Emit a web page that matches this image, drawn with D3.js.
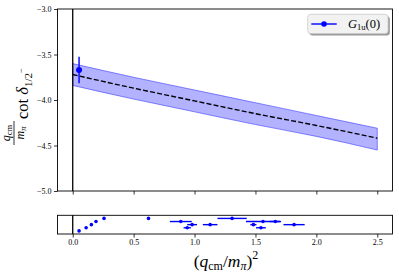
<!DOCTYPE html>
<html><head><meta charset="utf-8">
<script src="https://cdn.jsdelivr.net/npm/d3@7"></script>
<style>body{margin:0;background:#fff}svg{display:block}</style>
</head><body>
<script>
// ---- data ----
const bandX      = [0, 0.5, 1.0, 1.5, 2.0, 2.5];
const bandCenter = [-3.72, -3.87, -4.01, -4.15, -4.28, -4.42];
const bandUpper  = [-3.60, -3.75, -3.89, -4.03, -4.17, -4.31];
const bandLower  = [-3.84, -3.99, -4.13, -4.27, -4.40, -4.55];
const pointX = [0.052];
const pointY = [-3.67];
const pointYErr = [0.145];
// spectrum panel: x positions, error and level index
const specX   = [0.052, 0.11, 0.94, 1.545, 0.153, 0.98, 1.128, 1.483, 1.817, 0.191, 0.887, 1.562, 1.663, 0.257, 0.622, 1.308];
const specErr = [0, 0, 0.03, 0.04, 0, 0.04, 0.06, 0.025, 0.087, 0, 0.09, 0.14, 0.047, 0, 0, 0.12];
const specLvl = [0, 1, 1, 1, 2, 2, 2, 2, 2, 3, 3, 3, 3, 4, 4, 4];
const yTicks = [-3.0, -3.5, -4.0, -4.5, -5.0];
const xTicks = [0.0, 0.5, 1.0, 1.5, 2.0, 2.5];
const legendLabel = "G";

const W = 399, H = 276;
const svg = d3.select("body").append("svg").attr("width", W).attr("height", H);
const serif = "'Liberation Serif', 'DejaVu Serif', serif";

const x = d3.scaleLinear().domain([-0.125, 2.625]).range([57.5, 392.5]);
const y = d3.scaleLinear().domain([-5, -3]).range([191, 9]);
const yb = d3.scaleLinear().domain([-1, 5]).range([234, 215.3]);

// band
const bandData = bandX.map((v, i) => ({x: v, c: bandCenter[i], u: bandUpper[i], l: bandLower[i]}));
svg.append("path").datum(bandData)
  .attr("d", d3.area().x(d => x(d.x)).y0(d => y(d.l)).y1(d => y(d.u)).curve(d3.curveNatural))
  .attr("fill", "rgba(0,0,255,0.3)").attr("stroke", "rgba(0,0,255,0.55)").attr("stroke-width", 0.8);
svg.append("path").datum(bandData)
  .attr("d", d3.line().x(d => x(d.x)).y(d => y(d.c)).curve(d3.curveNatural))
  .attr("fill", "none").attr("stroke", "#000").attr("stroke-width", 1.4).attr("stroke-dasharray", "5,2.2");

// vertical zero lines
svg.append("line").attr("x1", x(0)).attr("x2", x(0)).attr("y1", y(-3)).attr("y2", y(-5))
  .attr("stroke", "#000").attr("stroke-width", 1.3);
svg.append("line").attr("x1", x(0)).attr("x2", x(0)).attr("y1", yb(5)).attr("y2", yb(-1))
  .attr("stroke", "#000").attr("stroke-width", 1.3);

// data point
pointX.forEach((px, i) => {
  svg.append("line").attr("x1", x(px)).attr("x2", x(px))
    .attr("y1", y(pointY[i] + pointYErr[i])).attr("y2", y(pointY[i] - pointYErr[i]))
    .attr("stroke", "#0000ff").attr("stroke-width", 1.4);
  svg.append("circle").attr("cx", x(px)).attr("cy", y(pointY[i])).attr("r", 3).attr("fill", "#0000ff");
});

// spectrum panel
specX.forEach((sx, i) => {
  if (specErr[i] > 0)
    svg.append("line").attr("x1", x(sx - specErr[i])).attr("x2", x(sx + specErr[i]))
      .attr("y1", yb(specLvl[i])).attr("y2", yb(specLvl[i]))
      .attr("stroke", "#0000ff").attr("stroke-width", 1.4);
  svg.append("circle").attr("cx", x(sx)).attr("cy", yb(specLvl[i])).attr("r", 1.8).attr("fill", "#0000ff");
});

// frames
svg.append("rect").attr("x", 57.5).attr("y", 9).attr("width", 335).attr("height", 182)
  .attr("fill", "none").attr("stroke", "#000").attr("stroke-width", 0.9);
svg.append("rect").attr("x", 57.5).attr("y", 215.3).attr("width", 335).attr("height", 18.7)
  .attr("fill", "none").attr("stroke", "#000").attr("stroke-width", 0.9);

// axes
const yAxis = d3.axisLeft(y).tickValues(yTicks).tickFormat(d3.format(".1f")).tickSize(3.5).tickPadding(2.5);
const gy = svg.append("g").attr("transform", "translate(57.5,0)").call(yAxis);
const xAxisMain = d3.axisBottom(x).tickValues(xTicks).tickFormat("").tickSize(3.5);
const gxm = svg.append("g").attr("transform", "translate(0,191)").call(xAxisMain);
const xAxisB = d3.axisBottom(x).tickValues(xTicks).tickFormat(d3.format(".1f")).tickSize(3.5).tickPadding(1.5);
const gxb = svg.append("g").attr("transform", "translate(0,234)").call(xAxisB);
[gy, gxm, gxb].forEach(g => {
  g.select(".domain").remove();
  g.selectAll("line").attr("stroke", "#000").attr("stroke-width", 0.8);
  g.selectAll("text").attr("font-family", serif).attr("font-size", 8).attr("fill", "#000");
});

// x label
const xl = svg.append("text").attr("x", 226).attr("y", 267).attr("text-anchor", "middle")
  .attr("font-family", serif).attr("font-size", 17.5).attr("fill", "#000");
xl.append("tspan").text("(");
xl.append("tspan").attr("font-style", "italic").text("q");
xl.append("tspan").attr("font-size", 12).attr("dy", 3).text("cm");
xl.append("tspan").attr("dy", -3).text("/");
xl.append("tspan").attr("font-style", "italic").text("m");
xl.append("tspan").attr("font-size", 12).attr("font-style", "italic").attr("dy", 3).text("π");
xl.append("tspan").attr("dy", -3).text(")");
xl.append("tspan").attr("font-size", 12).attr("dy", -8).text("2");

// y label (rotated)
const yl = svg.append("g").attr("transform", "translate(28,100) rotate(-90)")
  .attr("font-family", serif).attr("fill", "#000");
const num = yl.append("text").attr("x", -33).attr("y", -18).attr("text-anchor", "middle").attr("font-size", 12);
num.append("tspan").attr("font-style", "italic").text("q");
num.append("tspan").attr("font-size", 8.5).attr("dy", 2).text("cm");
yl.append("line").attr("x1", -45).attr("x2", -21).attr("y1", -14).attr("y2", -14)
  .attr("stroke", "#000").attr("stroke-width", 0.8);
const den = yl.append("text").attr("x", -33).attr("y", -4).attr("text-anchor", "middle").attr("font-size", 12);
den.append("tspan").attr("font-style", "italic").text("m");
den.append("tspan").attr("font-size", 8.5).attr("font-style", "italic").attr("dy", 2).text("π");
const rest = yl.append("text").attr("x", -19).attr("y", 0).attr("font-size", 16.5);
rest.append("tspan").text("cot ");
rest.append("tspan").attr("font-style", "italic").text("δ");
rest.append("tspan").attr("font-size", 11).attr("dy", 4).text("1/2");
rest.append("tspan").attr("font-size", 8.5).attr("dy", -8).text("−");

// legend
const lg = svg.append("g");
lg.append("rect").attr("x", 309.5).attr("y", 16.3).attr("width", 80.3).attr("height", 19.3).attr("rx", 3)
  .attr("fill", "#999");
lg.append("rect").attr("x", 307.7).attr("y", 14.3).attr("width", 80.3).attr("height", 19.3).attr("rx", 3)
  .attr("fill", "#f2f2f2").attr("stroke", "#ccc").attr("stroke-width", 0.8);
lg.append("line").attr("x1", 311.3).attr("x2", 336.7).attr("y1", 24).attr("y2", 24)
  .attr("stroke", "#0000ff").attr("stroke-width", 1.4);
lg.append("circle").attr("cx", 324).attr("cy", 24).attr("r", 2.8).attr("fill", "#0000ff");
const lt = lg.append("text").attr("x", 348).attr("y", 28).attr("font-family", serif).attr("font-size", 12.5).attr("fill", "#000");
lt.append("tspan").attr("font-style", "italic").text(legendLabel);
lt.append("tspan").attr("font-size", 8.5).attr("dy", 2).text("1u");
lt.append("tspan").attr("dy", -2).text("(0)");
</script>
</body></html>
